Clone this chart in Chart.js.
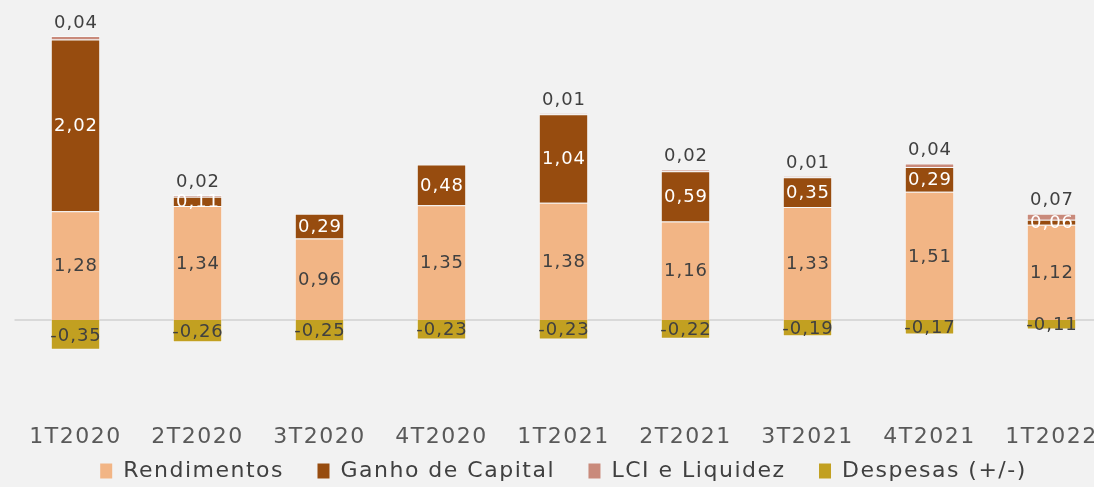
<!DOCTYPE html>
<html>
<head>
<meta charset="utf-8">
<script src="https://cdn.jsdelivr.net/npm/chart.js@4.4.1/dist/chart.umd.min.js"></script>
<style>
  html, body { margin: 0; padding: 0; background: #f2f2f2; overflow: hidden; }
  #wrap { width: 1134px; height: 492px; position: relative; }
</style>
</head>
<body>
<div id="wrap"><canvas id="c"></canvas></div>
<script>
const categories = ['1T2020','2T2020','3T2020','4T2020','1T2021','2T2021','3T2021','4T2021','1T2022'];
const rendimentos = [1.28, 1.34, 0.96, 1.35, 1.38, 1.16, 1.33, 1.51, 1.12];
const ganhoCapital = [2.02, 0.11, 0.29, 0.48, 1.04, 0.59, 0.35, 0.29, 0.06];
const lciLiquidez = [0.04, 0.02, null, null, 0.01, 0.02, 0.01, 0.04, 0.07];
const despesas = [-0.35, -0.26, -0.25, -0.23, -0.23, -0.22, -0.19, -0.17, -0.11];
const seriesNames = ['Rendimentos', 'Ganho de Capital', 'LCI e Liquidez', 'Despesas (+/-)'];

const FONT = 'DejaVu Sans';
const fmt = v => v.toFixed(2).replace('.', ',');

const spacing = {
  id: 'spacing',
  beforeUpdate(chart) { chart.ctx.letterSpacing = '1.5px'; },
  beforeLayout(chart) { chart.ctx.letterSpacing = '1.5px'; },
  beforeDraw(chart) { chart.ctx.letterSpacing = '1.5px'; }
};

const zeroLine = {
  id: 'zeroLine',
  beforeDatasetsDraw(chart) {
    const { ctx, chartArea, scales } = chart;
    const y = scales.y.getPixelForValue(0);
    ctx.save();
    ctx.strokeStyle = '#d9d9d9';
    ctx.lineWidth = 2;
    ctx.beginPath();
    ctx.moveTo(chartArea.left, y);
    ctx.lineTo(chartArea.right, y);
    ctx.stroke();
    ctx.restore();
  }
};

const valueLabels = {
  id: 'valueLabels',
  afterDatasetsDraw(chart) {
    const { ctx } = chart;
    ctx.save();
    ctx.letterSpacing = '1px';
    ctx.font = '18px "' + FONT + '"';
    ctx.textAlign = 'center';
    chart.data.datasets.forEach((ds, di) => {
      const meta = chart.getDatasetMeta(di);
      meta.data.forEach((el, i) => {
        const v = ds.data[i];
        if (v === null || v === undefined) return;
        const p = el.getProps(['x', 'y', 'base'], true);
        let ty;
        if (di === 2) {
          ctx.textBaseline = 'bottom';
          ty = p.y - 4;
          ctx.fillStyle = '#404040';
        } else {
          ctx.textBaseline = 'middle';
          ty = (p.y + p.base) / 2 + 1;
          ctx.fillStyle = di === 1 ? '#ffffff' : '#404040';
        }
        ctx.fillText(fmt(v), p.x + 0.5, ty);
      });
    });
    ctx.restore();
  }
};

const colors = ['#f2b585', '#974c0f', '#c98a7b', '#c2a021'];
const seriesData = [rendimentos, ganhoCapital, lciLiquidez, despesas];

new Chart(document.getElementById('c'), {
  type: 'bar',
  data: {
    labels: categories,
    datasets: seriesData.map((d, i) => ({
      label: seriesNames[i],
      data: d,
      backgroundColor: colors[i],
      borderColor: 'rgba(255,255,255,0.45)',
      borderWidth: 1,
      barPercentage: 0.405,
      categoryPercentage: 1.0
    }))
  },
  options: {
    responsive: true,
    maintainAspectRatio: false,
    animation: false,
    layout: { padding: { left: 14.5, right: 21.5, top: 0, bottom: 0 } },
    scales: {
      x: {
        stacked: true,
        grid: { display: false },
        border: { display: false },
        ticks: { color: '#595959', font: { family: FONT, size: 22 }, padding: 2, maxRotation: 0, autoSkip: false },
        afterFit(s) { s.height = 38; }
      },
      y: {
        stacked: true,
        display: false,
        min: -1.105,
        max: 3.764
      }
    },
    plugins: {
      legend: {
        position: 'bottom',
        labels: {
          color: '#404040',
          font: { family: FONT, size: 22 },
          boxWidth: 12,
          boxHeight: 15,
          padding: 8,
          generateLabels(chart) {
            const items = Chart.defaults.plugins.legend.labels.generateLabels(chart);
            items.forEach((it, i) => {
              it.lineWidth = 0;
              it.strokeStyle = 'rgba(0,0,0,0)';
              if (i < items.length - 1) it.text = it.text + '   ';
            });
            return items;
          }
        }
      },
      tooltip: { enabled: false }
    }
  },
  plugins: [spacing, zeroLine, valueLabels]
});
</script>
</body>
</html>
